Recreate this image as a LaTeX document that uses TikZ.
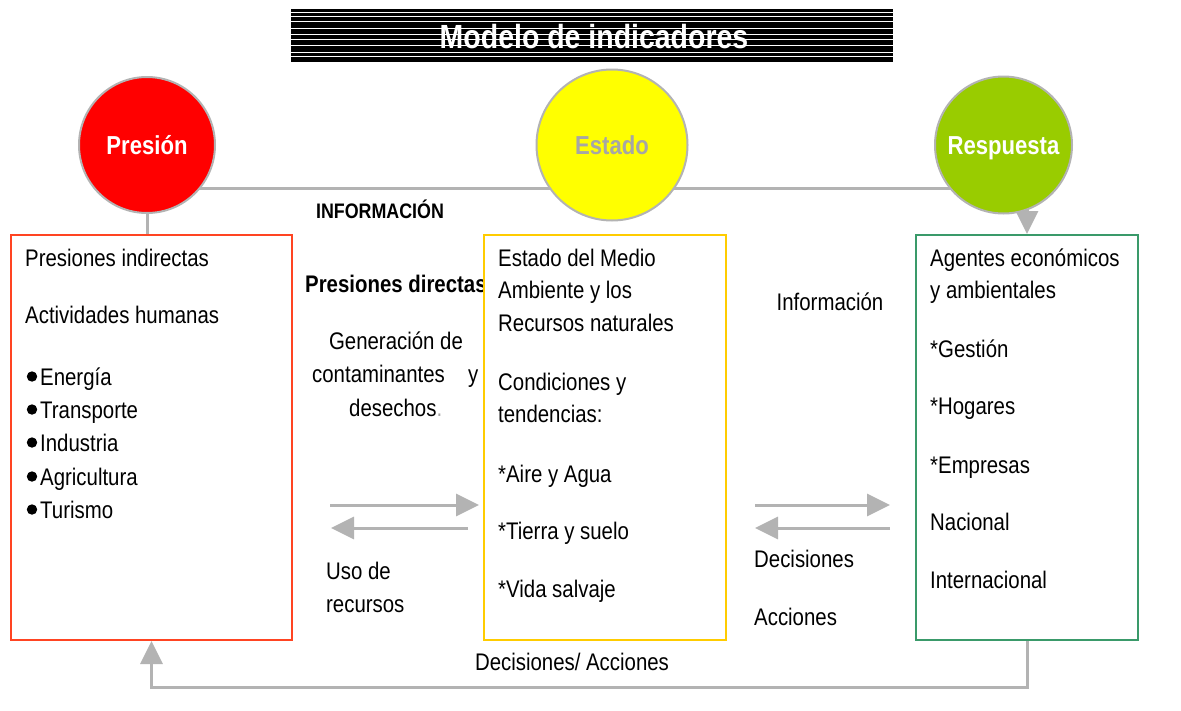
\documentclass[tikz,border=0pt]{standalone}
\usepackage{fontspec}
\setmainfont{Liberation Sans}[FakeStretch=0.85]
\usetikzlibrary{arrows.meta,backgrounds}
\definecolor{lgray}{HTML}{B3B3B3}
\definecolor{cred}{HTML}{FF0000}
\definecolor{cyellow}{HTML}{FFFF00}
\definecolor{cgreen}{HTML}{99CC00}
\definecolor{bred}{HTML}{FF4422}
\definecolor{byellow}{HTML}{FFCC00}
\definecolor{bgreen}{HTML}{3A9A6A}
\definecolor{ctext}{HTML}{A6A6A6}
\begin{document}
\begin{tikzpicture}[x=1pt,y=-1pt,
  txt/.style={font=\fontsize{24}{33}\selectfont, inner sep=0pt, anchor=base west},
  btxt/.style={txt, font=\fontsize{24}{33}\selectfont\bfseries},
  circ/.style={circle, draw=lgray, line width=2pt, inner sep=0pt, minimum size=#1,
     font=\fontsize{26}{28}\selectfont\bfseries, text height=19pt, text depth=0pt},
  box/.style={draw=#1, line width=2pt, fill=white, inner sep=0pt},
  conn/.style={draw=lgray, line width=3pt},
  tip/.style={-{Triangle[width=22pt,length=23pt]}}]
\useasboundingbox (0,0) rectangle (1181,710);
% title
\fill[black] (291,9) rectangle (893,62);
\foreach \yy in {12,16.5,21.5,28.5,34,39.5,45.5,52,56.5}
  \draw[white,line width=0.9pt] (291,\yy) -- (893,\yy);
\node[txt, anchor=base, white, font=\fontsize{33.5}{36}\selectfont\bfseries] (title) at (594,48) {Modelo de indicadores};
% circles
\node[circ=136pt, fill=cred, text=white] (pres) at (147,145) {Presión};
\node[circ=151pt, fill=cyellow, text=ctext] (est) at (612,145) {Estado};
\node[circ=137pt, fill=cgreen, text=white] (resp) at (1003.5,145) {Respuesta};
\node[btxt, anchor=base, font=\fontsize{21}{24}\selectfont\bfseries] (info) at (380,218) {INFORMACIÓN};
% left box
\node[box=bred, minimum width=281pt, minimum height=405pt] (lbox) at (151.5,437.5) {};
\node[txt] (l1) at (25,266) {Presiones indirectas};
\node[txt] (l2) at (25,323) {Actividades humanas};
\foreach \yy/\tt/\nm in {385/Energía/b1,418/Transporte/b2,451/Industria/b3,485/Agricultura/b4,518/Turismo/b5}{
  \fill (32,\yy-8.5) circle[radius=5.2pt];
  \node[txt] (\nm) at (40,\yy) {\tt};
}
% gap left-middle
\node[btxt] (pd) at (305,292) {Presiones directas};
\node[txt, anchor=base] (g1) at (396,349) {Generación de};
\node[txt] (g2) at (312,382) {contaminantes};
\node[txt] (g2y) at (468,382) {y};
\node[txt] (g3) at (349,416) {desechos\textcolor{ctext}{.}};
\node[txt] (u1) at (326,579) {Uso de};
\node[txt] (u2) at (326,612) {recursos};
\coordinate (a1s) at (330,505); \coordinate (a1e) at (479,505);
\coordinate (a2s) at (468,528); \coordinate (a2e) at (331,528);
\draw[conn,tip] (a1s) -- (a1e);
\draw[conn,tip] (a2s) -- (a2e);
% middle box
\node[box=byellow, minimum width=242pt, minimum height=405pt] (mbox) at (605,437.5) {};
\foreach \yy/\tt/\nm in {266/Estado del Medio/m1,298/Ambiente y los/m2,331/Recursos naturales/m3,390/Condiciones y/m4,422/tendencias:/m5,482/*Aire y Agua/m6,539/*Tierra y suelo/m7,597/*Vida salvaje/m8}
  \node[txt] (\nm) at (498,\yy) {\tt};
% gap middle-right
\node[txt, anchor=base] (inf2) at (830,310) {Información};
\node[txt] (dec) at (754,567) {Decisiones};
\node[txt] (acc) at (754,625) {Acciones};
\coordinate (a3s) at (755,505); \coordinate (a3e) at (890,505);
\coordinate (a4s) at (890,528); \coordinate (a4e) at (755,528);
\draw[conn,tip] (a3s) -- (a3e);
\draw[conn,tip] (a4s) -- (a4e);
% right box
\node[box=bgreen, minimum width=222pt, minimum height=405pt] (rbox) at (1027,437.5) {};
\foreach \yy/\tt/\nm in {266/Agentes económicos/r1,298/y ambientales/r2,357/*Gestión/r3,414/*Hogares/r4,473/*Empresas/r5,530/Nacional/r6,588/Internacional/r7}
  \node[txt] (\nm) at (930,\yy) {\tt};
% bottom loop
\draw[conn,tip] (rbox.south) -- ++(0,46) -| (lbox.south);
\node[txt, anchor=base] (da) at (572,670) {Decisiones/ Acciones};
% connectors behind circles
\begin{scope}[on background layer]
\draw[conn] ([yshift=-43pt]pres.center) -- ([yshift=-43pt]resp.center);
\draw[conn] (pres.south) -- (pres.south |- lbox.north);
\draw[conn,tip] ([xshift=23.5pt]resp.center) -- ([xshift=23.5pt]resp.center |- rbox.north);
\end{scope}
\end{tikzpicture}
\end{document}
